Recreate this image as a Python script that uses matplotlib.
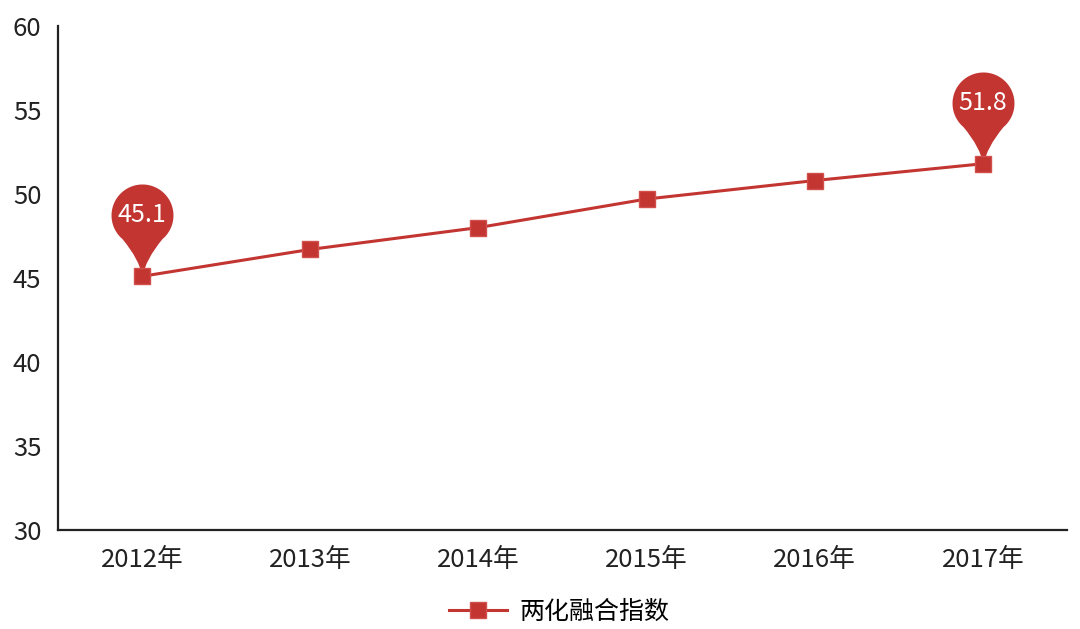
import numpy as np
import matplotlib
matplotlib.use("Agg")
import matplotlib.pyplot as plt
from matplotlib.path import Path

plt.rcParams['font.family'] = ['Noto Sans CJK SC', 'DejaVu Sans']

years = ["2012年", "2013年", "2014年", "2015年", "2016年", "2017年"]
index_vals = [45.1, 46.7, 48.0, 49.7, 50.8, 51.8]
series_name = "两化融合指数"
pin_idx = [0, 5]  # min / max markers

RED = "#c23531"


def pin_path():
    # balloon pin, tip at (0, 0), circle radius 1 centred at (0, c)
    c = 1.97
    th = np.radians(np.linspace(-50, 230, 60))
    arc = np.column_stack([np.cos(th), c + np.sin(th)])
    left, right = arc[-1], arc[0]
    verts = [tuple(p) for p in arc]
    codes = [Path.MOVETO] + [Path.LINETO] * (len(arc) - 1)
    verts += [(-0.1, 0.55), (0, 0), (0.1, 0.55), tuple(right), tuple(right)]
    codes += [Path.CURVE3, Path.CURVE3, Path.CURVE3, Path.CURVE3, Path.CLOSEPOLY]
    return Path(verts, codes), c


fig = plt.figure(figsize=(10.8, 6.29), dpi=100)
ax = fig.add_axes([0.0537, 0.1574, 0.9343, 0.8013])
x = np.arange(len(years))

ax.plot(x, index_vals, color=RED, lw=2.2, marker="s", ms=11, mfc=RED, mec="#d2504c",
        mew=1, zorder=3, label=series_name)

pin, c = pin_path()
pin_px = 92  # top of pin to tip, pixels
ms_pt = 2 * pin_px * 72 / fig.dpi
for i in pin_idx:
    ax.plot(x[i], index_vals[i], marker=pin, ms=ms_pt, color=RED, mec="none", zorder=2,
            linestyle="none")
    off = (pin_px * c / (c + 1)) * 72 / fig.dpi
    ax.annotate(f"{index_vals[i]:.1f}", (x[i], index_vals[i]), xytext=(0, off),
                textcoords="offset points", ha="center", va="center", color="white",
                fontsize=18, zorder=4)

ax.set_xlim(-0.5, len(years) - 0.5)
ax.set_ylim(30, 60)
ax.set_yticks(range(30, 61, 5))
ax.set_xticks(x)
ax.set_xticklabels(years)
ax.tick_params(axis="both", length=0, labelsize=18.5, colors="#222222")
ax.tick_params(axis="y", pad=12)
ax.tick_params(axis="x", pad=12)
for s in ["top", "right"]:
    ax.spines[s].set_visible(False)
for s in ["left", "bottom"]:
    ax.spines[s].set_linewidth(1.6)
    ax.spines[s].set_color("#222222")

fig.legend(loc="center", bbox_to_anchor=(0.518, 0.027), frameon=False, fontsize=18,
           handlelength=2.3, handletextpad=0.5)

fig.savefig("out.png", dpi=100)
